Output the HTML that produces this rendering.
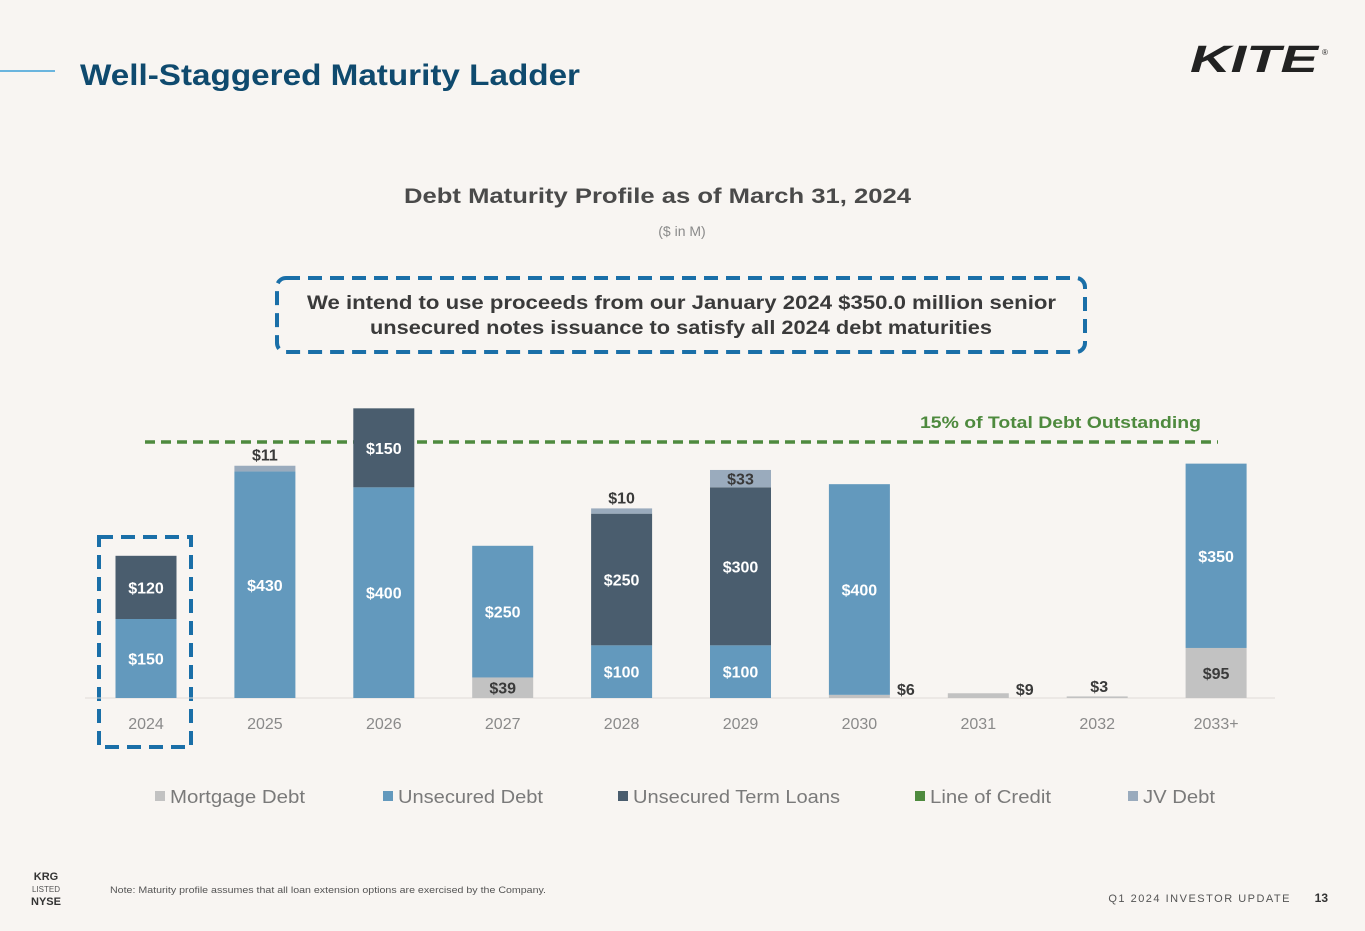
<!DOCTYPE html>
<html><head><meta charset="utf-8"><style>
body{margin:0;background:#f8f5f2;font-family:"Liberation Sans",sans-serif;}
#wrap{position:relative;width:1365px;height:931px;overflow:hidden;background:#f8f5f2;}
</style></head><body>
<div id="wrap">
<svg width="1365" height="931" id="svg">
<line x1="0" y1="71" x2="55" y2="71" stroke="#3aa0d8" stroke-width="1.5"/>
<text x="80" y="85" font-size="30" font-weight="bold" fill="#0f4a6e" textLength="500" lengthAdjust="spacingAndGlyphs">Well-Staggered Maturity Ladder</text>
<text x="1190" y="72" font-size="38" font-weight="bold" font-style="italic" fill="#222" textLength="128" lengthAdjust="spacingAndGlyphs">KITE</text>
<text x="1322" y="55" font-size="8" fill="#222">®</text>
<text x="404" y="203" font-size="21" font-weight="bold" fill="#4a4a4a" textLength="507" lengthAdjust="spacingAndGlyphs">Debt Maturity Profile as of March 31, 2024</text>
<text x="682" y="236" font-size="14" fill="#8a8a8a" text-anchor="middle">($ in M)</text>
<rect x="277" y="278" width="808" height="74" rx="9" fill="none" stroke="#1a6fa8" stroke-width="4" stroke-dasharray="14,8"/>
<text x="307" y="309" font-size="19" font-weight="bold" fill="#3a3a3a" textLength="749" lengthAdjust="spacingAndGlyphs">We intend to use proceeds from our January 2024 $350.0 million senior</text>
<text x="370" y="334" font-size="19" font-weight="bold" fill="#3a3a3a" textLength="622" lengthAdjust="spacingAndGlyphs">unsecured notes issuance to satisfy all 2024 debt maturities</text>
<rect x="99" y="537" width="92" height="210" fill="none" stroke="#1a6fa8" stroke-width="4" stroke-dasharray="14,8"/>
<g id="plot"></g>
<text x="110" y="893" font-size="9" fill="#555" textLength="436" lengthAdjust="spacingAndGlyphs">Note: Maturity profile assumes that all loan extension options are exercised by the Company.</text>
<text x="46" y="880" font-size="11" font-weight="bold" fill="#333" text-anchor="middle">KRG</text>
<text x="46" y="892" font-size="8" fill="#555" text-anchor="middle">LISTED</text>
<text x="46" y="905" font-size="11" font-weight="bold" fill="#333" text-anchor="middle">NYSE</text>
<text x="1291" y="902" font-size="11" fill="#555" text-anchor="end" letter-spacing="1.5">Q1 2024 INVESTOR UPDATE</text>
<text x="1328" y="902" font-size="12" font-weight="bold" fill="#333" text-anchor="end">13</text>
</svg>
</div>
<script>
const categories=["2024","2025","2026","2027","2028","2029","2030","2031","2032","2033+"];
const mortgage=[0,0,0,39,0,0,6,9,3,95];
const unsecured=[150,430,400,250,100,100,400,0,0,350];
const termLoans=[120,0,150,0,250,300,0,0,0,0];
const lineOfCredit=[0,0,0,0,0,0,0,0,0,0];
const jvDebt=[0,11,0,0,10,33,0,0,0,0];
const thresholdValue=486;
const smallLabelPos=["","above","","","above","","right","right","above",""];
const legendLabels=["Mortgage Debt","Unsecured Debt","Unsecured Term Loans","Line of Credit","JV Debt"];

const NS="http://www.w3.org/2000/svg";
const g=document.getElementById("plot");
const base=698,scale=79/150,x0=146,step=118.9,bw=61;
const xc=i=>x0+i*step;
const y=v=>base-v*scale;
function mk(t,a){const e=document.createElementNS(NS,t);for(const k in a)e.setAttribute(k,a[k]);g.appendChild(e);return e;}
const series=[
 {name:"mortgage",data:mortgage,color:"#c2c2c2",txt:"#3a3a3a"},
 {name:"unsecured",data:unsecured,color:"#6399bd",txt:"#fff"},
 {name:"term-loans",data:termLoans,color:"#4a5d6e",txt:"#fff"},
 {name:"line-of-credit",data:lineOfCredit,color:"#4e8a3e",txt:"#fff"},
 {name:"jv-debt",data:jvDebt,color:"#9aabbd",txt:"#3a3a3a"}];
const axis=mk("line",{x1:85,x2:1275,y1:base,y2:base,stroke:"#e0dcd8","stroke-width":1});


const th=mk("line",{x1:145,x2:1218,y1:y(thresholdValue),y2:y(thresholdValue),stroke:"#4e8a3e","stroke-width":3.5,"stroke-dasharray":"10,6"});


categories.forEach((c,i)=>{
 let cum=0,total=0;
 series.forEach(s=>total+=s.data[i]);
 series.forEach(s=>{
  const v=s.data[i]; if(!v)return;
  const top=y(cum+v),bot=y(cum),h=bot-top;
  const r=mk("rect",{x:xc(i)-bw/2,y:top,width:bw,height:Math.max(h,1),fill:s.color});
  
  
  let tx=xc(i),ty=(top+bot)/2+6,fill=s.txt;
  if(h<15){
   fill="#3a3a3a";
   const p=smallLabelPos[i];
   if(p==="right"){tx=xc(i)+bw/2+16;ty=base-3;}
   else{ty=y(total)-5;if(s.name==="mortgage")ty=base-6;tx=xc(i)+(s.name==="mortgage"?2:0);}
  }
  const t=mk("text",{x:tx,y:ty,"font-size":16,"font-weight":"bold",fill:fill,"text-anchor":"middle"});
  t.textContent="$"+v;
  
  
  cum+=v;
 });
 const tl=mk("text",{x:xc(i),y:729,"font-size":16,fill:"#8a8a8a","text-anchor":"middle"});
 tl.textContent=c;
 
 
});
const tt=mk("text",{x:920,y:y(thresholdValue)-14,"font-size":17,"font-weight":"bold",fill:"#4e8a3e",textLength:281,lengthAdjust:"spacingAndGlyphs"});
tt.textContent="15% of Total Debt Outstanding";


const lx=[155,383,618,915,1128];
const lw=[135,145,207,121,72];
legendLabels.forEach((l,k)=>{
 const sq=mk("rect",{x:lx[k],y:791,width:10,height:10,fill:series[k].color});
 
 
 const t=mk("text",{x:lx[k]+15,y:803,"font-size":18,fill:"#7a7a7a",textLength:lw[k],lengthAdjust:"spacingAndGlyphs"});
 t.textContent=l;
 
 
});
</script>
</body></html>
